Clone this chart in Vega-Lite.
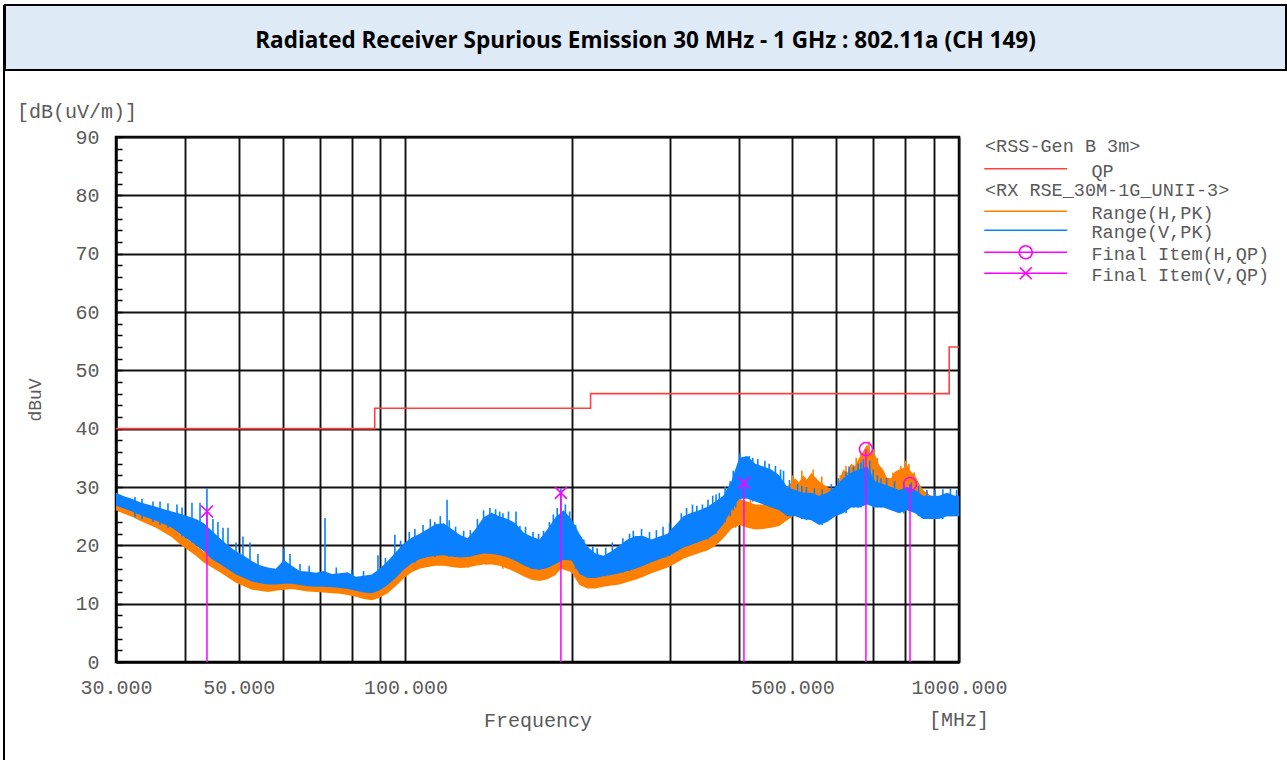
{
  "$schema": "https://vega.github.io/schema/vega-lite/v6.json",
  "background": "white",
  "padding": {"left": 3, "top": 4, "right": 0, "bottom": 0},
  "spacing": -2,
  "resolve": {"scale": {"color": "independent", "stroke": "independent", "shape": "independent"}, "legend": {"color": "independent", "stroke": "independent", "shape": "independent"}},
  "config": {
    "axis": {"labelFont": "Liberation Mono", "labelFontSize": 20, "labelColor": "#5a5a5a", "titleFont": "Liberation Mono", "titleFontSize": 20, "titleFontWeight": "normal", "titleColor": "#5a5a5a", "gridColor": "#111111", "gridWidth": 1.9, "gridOpacity": 1, "domainColor": "#000000", "domainWidth": 2},
    "legend": {"orient": "right", "offset": 26, "padding": 0, "titleFont": "Liberation Mono", "titleFontSize": 18.5, "titleFontWeight": "normal", "titleColor": "#5a5a5a", "titleLimit": 600, "titlePadding": 6, "labelFont": "Liberation Mono", "labelFontSize": 18.5, "labelColor": "#5a5a5a", "labelLimit": 600, "labelOffset": 88, "symbolSize": 100, "symbolStrokeWidth": 1.6, "rowPadding": 0, "layout": {"right": {"direction": "vertical", "anchor": "start", "margin": -6}}}
  },
  "datasets": {
    "H": [
      {"f":30.00,"lo":26.0,"hi":28.0},{"f":31.01,"lo":25.4,"hi":27.4},{"f":32.06,"lo":24.9,"hi":26.6},{"f":33.15,"lo":24.2,"hi":26.0},{"f":34.27,"lo":23.6,"hi":25.5},{"f":35.43,"lo":23.0,"hi":24.8},{"f":36.62,"lo":22.2,"hi":24.0},{"f":37.86,"lo":21.4,"hi":23.3},{"f":39.14,"lo":20.2,"hi":22.0},{"f":40.47,"lo":19.2,"hi":21.0},
      {"f":41.83,"lo":18.2,"hi":20.0},{"f":43.25,"lo":17.0,"hi":18.9},{"f":44.71,"lo":16.2,"hi":18.0},{"f":46.22,"lo":15.4,"hi":17.2},{"f":47.78,"lo":14.5,"hi":16.3},{"f":49.40,"lo":13.6,"hi":15.4},{"f":51.07,"lo":13.0,"hi":14.8},{"f":52.79,"lo":12.4,"hi":14.1},{"f":54.58,"lo":12.2,"hi":13.9},{"f":56.42,"lo":12.0,"hi":13.8},
      {"f":58.33,"lo":12.2,"hi":14.0},{"f":60.30,"lo":12.4,"hi":14.2},{"f":62.34,"lo":12.5,"hi":14.3},{"f":64.44,"lo":12.3,"hi":14.0},{"f":66.62,"lo":12.1,"hi":13.8},{"f":68.87,"lo":12.0,"hi":13.7},{"f":71.20,"lo":11.9,"hi":13.6},{"f":73.61,"lo":11.8,"hi":13.5},{"f":76.09,"lo":11.7,"hi":13.4},{"f":78.66,"lo":11.5,"hi":13.2},
      {"f":81.32,"lo":11.2,"hi":12.9},{"f":84.07,"lo":10.8,"hi":12.5},{"f":86.91,"lo":10.6,"hi":12.3},{"f":89.85,"lo":11.0,"hi":12.8},{"f":92.88,"lo":11.8,"hi":13.6},{"f":96.02,"lo":13.0,"hi":14.8},{"f":99.26,"lo":14.3,"hi":16.2},{"f":102.6,"lo":15.4,"hi":17.3},{"f":106.1,"lo":16.0,"hi":18.0},{"f":109.7,"lo":16.3,"hi":18.4},
      {"f":113.4,"lo":16.5,"hi":18.6},{"f":117.2,"lo":16.5,"hi":18.7},{"f":121.2,"lo":16.3,"hi":18.5},{"f":125.3,"lo":16.1,"hi":18.3},{"f":129.5,"lo":16.2,"hi":18.4},{"f":133.9,"lo":16.5,"hi":18.7},{"f":138.4,"lo":16.7,"hi":19.0},{"f":143.1,"lo":16.7,"hi":18.9},{"f":147.9,"lo":16.5,"hi":18.7},{"f":152.9,"lo":16.0,"hi":18.3},
      {"f":158.1,"lo":15.4,"hi":17.7},{"f":163.4,"lo":14.7,"hi":17.0},{"f":168.9,"lo":14.1,"hi":16.4},{"f":174.7,"lo":13.9,"hi":16.2},{"f":180.6,"lo":14.2,"hi":16.5},{"f":186.7,"lo":14.9,"hi":17.2},{"f":191.0,"lo":16.0,"hi":19.7},{"f":199.5,"lo":15.4,"hi":17.8},{"f":206.2,"lo":13.2,"hi":15.5},{"f":213.2,"lo":12.6,"hi":14.8},
      {"f":220.4,"lo":12.6,"hi":14.8},{"f":227.9,"lo":12.9,"hi":15.1},{"f":235.6,"lo":13.1,"hi":15.3},{"f":243.5,"lo":13.3,"hi":15.6},{"f":251.8,"lo":13.7,"hi":16.0},{"f":260.3,"lo":14.1,"hi":16.4},{"f":269.1,"lo":14.6,"hi":16.9},{"f":278.2,"lo":15.2,"hi":17.5},{"f":287.6,"lo":15.7,"hi":18.0},{"f":297.3,"lo":16.2,"hi":18.5},
      {"f":307.3,"lo":16.9,"hi":19.2},{"f":317.7,"lo":17.7,"hi":20.0},{"f":328.5,"lo":18.2,"hi":20.5},{"f":339.6,"lo":18.7,"hi":21.0},{"f":351.0,"lo":19.1,"hi":21.5},{"f":362.9,"lo":19.9,"hi":22.4},{"f":375.2,"lo":21.2,"hi":24.0},{"f":387.9,"lo":22.8,"hi":26.5},{"f":401.0,"lo":23.5,"hi":28.0},{"f":414.5,"lo":23.0,"hi":27.5},
      {"f":428.5,"lo":22.7,"hi":27.0},{"f":443.0,"lo":22.8,"hi":27.0},{"f":458.0,"lo":23.0,"hi":27.4},{"f":473.4,"lo":23.3,"hi":28.0},{"f":489.4,"lo":24.3,"hi":30.0},{"f":506.0,"lo":25.3,"hi":31.5},{"f":514.0,"lo":25.5,"hi":30.8},{"f":523.1,"lo":25.8,"hi":32.0},{"f":531.0,"lo":25.9,"hi":31.3},{"f":540.8,"lo":26.0,"hi":32.4},
      {"f":559.0,"lo":25.5,"hi":31.0},{"f":577.9,"lo":25.0,"hi":30.0},{"f":597.5,"lo":25.0,"hi":29.5},{"f":607.0,"lo":25.5,"hi":31.0},{"f":617.7,"lo":26.3,"hi":33.0},{"f":628.0,"lo":26.8,"hi":32.4},{"f":638.5,"lo":27.3,"hi":34.0},{"f":649.0,"lo":27.6,"hi":33.6},{"f":660.1,"lo":28.0,"hi":35.0},{"f":670.0,"lo":28.5,"hi":36.0},
      {"f":682.4,"lo":29.0,"hi":37.3},{"f":693.0,"lo":28.8,"hi":35.8},{"f":705.5,"lo":28.5,"hi":35.5},{"f":717.0,"lo":27.8,"hi":33.8},{"f":729.3,"lo":27.0,"hi":33.0},{"f":741.0,"lo":26.5,"hi":31.6},{"f":754.0,"lo":26.0,"hi":31.5},{"f":766.0,"lo":26.2,"hi":32.6},{"f":779.4,"lo":26.5,"hi":33.0},{"f":792.0,"lo":26.8,"hi":33.2},
      {"f":805.8,"lo":27.0,"hi":33.8},{"f":819.0,"lo":26.8,"hi":32.6},{"f":833.0,"lo":26.5,"hi":32.0},{"f":847.0,"lo":26.0,"hi":30.6},{"f":861.2,"lo":25.5,"hi":29.5},{"f":890.3,"lo":25.0,"hi":28.5},{"f":920.4,"lo":25.0,"hi":28.0},{"f":951.5,"lo":25.0,"hi":27.8},{"f":983.6,"lo":25.0,"hi":28.0},{"f":1000,"lo":25.2,"hi":28.0}
    ],
    "spkH": [
      {"f":110,"lo":16.3,"hi":19.3},{"f":130,"lo":16.2,"hi":19.2},{"f":140,"lo":16.7,"hi":19.7},{"f":150,"lo":16.0,"hi":19.2},{"f":185,"lo":14.9,"hi":18.2},{"f":195,"lo":16.0,"hi":19.6},{"f":395,"lo":23.0,"hi":28.5},{"f":420,"lo":23.0,"hi":28.2},{"f":450,"lo":23.0,"hi":28.0},{"f":470,"lo":23.3,"hi":28.6},
      {"f":500,"lo":25.0,"hi":32.0},{"f":520,"lo":25.8,"hi":32.8},{"f":545,"lo":26.0,"hi":33.0},{"f":565,"lo":25.5,"hi":31.8},{"f":610,"lo":25.5,"hi":32.0},{"f":625,"lo":26.5,"hi":33.6},{"f":652,"lo":27.5,"hi":35.0},{"f":665,"lo":28.0,"hi":35.8},{"f":688,"lo":29.0,"hi":37.8},{"f":700,"lo":28.5,"hi":36.5},
      {"f":712,"lo":28.0,"hi":35.0},{"f":760,"lo":26.0,"hi":32.5},{"f":785,"lo":26.5,"hi":33.6},{"f":800,"lo":27.0,"hi":34.5},{"f":812,"lo":27.0,"hi":34.0},{"f":830,"lo":26.5,"hi":32.5},{"f":875,"lo":25.0,"hi":29.2},{"f":905,"lo":25.0,"hi":28.8}
    ],
    "V": [
      {"f":30.00,"lo":26.8,"hi":29.0},{"f":31.01,"lo":26.3,"hi":28.4},{"f":32.06,"lo":25.8,"hi":28.0},{"f":33.15,"lo":25.2,"hi":27.4},{"f":34.27,"lo":24.7,"hi":27.0},{"f":35.43,"lo":24.2,"hi":26.6},{"f":36.62,"lo":23.6,"hi":26.2},{"f":37.86,"lo":23.0,"hi":25.8},{"f":39.14,"lo":22.0,"hi":25.4},{"f":40.47,"lo":21.0,"hi":25.0},
      {"f":41.83,"lo":20.0,"hi":24.5},{"f":43.25,"lo":19.0,"hi":23.8},{"f":44.71,"lo":17.6,"hi":22.5},{"f":46.22,"lo":16.8,"hi":21.2},{"f":47.78,"lo":15.9,"hi":20.0},{"f":49.40,"lo":15.0,"hi":19.0},{"f":51.07,"lo":14.4,"hi":18.2},{"f":52.79,"lo":13.8,"hi":17.3},{"f":54.58,"lo":13.5,"hi":16.6},{"f":56.42,"lo":13.3,"hi":16.2},
      {"f":58.33,"lo":13.3,"hi":16.0},{"f":60.30,"lo":13.4,"hi":17.5},{"f":62.34,"lo":13.4,"hi":16.5},{"f":64.44,"lo":13.2,"hi":15.6},{"f":66.62,"lo":13.0,"hi":15.5},{"f":68.87,"lo":12.9,"hi":15.3},{"f":71.20,"lo":12.9,"hi":15.6},{"f":73.61,"lo":12.8,"hi":15.1},{"f":76.09,"lo":12.7,"hi":15.2},{"f":78.66,"lo":12.5,"hi":15.4},
      {"f":81.32,"lo":12.2,"hi":14.6},{"f":84.07,"lo":11.9,"hi":14.8},{"f":86.91,"lo":11.8,"hi":15.0},{"f":89.85,"lo":12.3,"hi":16.0},{"f":92.88,"lo":13.2,"hi":17.3},{"f":96.02,"lo":14.4,"hi":18.8},{"f":99.26,"lo":15.8,"hi":20.3},{"f":102.6,"lo":16.9,"hi":21.3},{"f":106.1,"lo":17.6,"hi":22.0},{"f":109.7,"lo":18.0,"hi":22.8},
      {"f":113.4,"lo":18.2,"hi":23.6},{"f":117.2,"lo":18.3,"hi":23.8},{"f":121.2,"lo":18.1,"hi":22.8},{"f":125.3,"lo":17.9,"hi":21.8},{"f":129.5,"lo":18.0,"hi":21.2},{"f":133.9,"lo":18.3,"hi":22.8},{"f":138.4,"lo":18.6,"hi":24.8},{"f":143.1,"lo":18.5,"hi":25.6},{"f":147.9,"lo":18.3,"hi":25.0},{"f":152.9,"lo":17.9,"hi":24.5},
      {"f":158.1,"lo":17.3,"hi":23.8},{"f":163.4,"lo":16.6,"hi":22.2},{"f":168.9,"lo":16.0,"hi":21.5},{"f":174.7,"lo":15.8,"hi":21.0},{"f":180.6,"lo":16.1,"hi":22.8},{"f":186.7,"lo":16.8,"hi":24.8},{"f":193.0,"lo":17.5,"hi":26.0},{"f":199.5,"lo":17.4,"hi":24.5},{"f":206.2,"lo":15.1,"hi":22.0},{"f":213.2,"lo":14.4,"hi":19.8},
      {"f":220.4,"lo":14.4,"hi":18.6},{"f":227.9,"lo":14.7,"hi":18.2},{"f":235.6,"lo":14.9,"hi":19.0},{"f":243.5,"lo":15.2,"hi":20.0},{"f":251.8,"lo":15.6,"hi":21.0},{"f":260.3,"lo":16.0,"hi":21.6},{"f":269.1,"lo":16.5,"hi":21.6},{"f":278.2,"lo":17.1,"hi":21.0},{"f":287.6,"lo":17.6,"hi":21.5},{"f":297.3,"lo":18.1,"hi":22.0},
      {"f":307.3,"lo":18.8,"hi":23.5},{"f":317.7,"lo":19.6,"hi":25.0},{"f":328.5,"lo":20.1,"hi":25.6},{"f":339.6,"lo":20.6,"hi":26.0},{"f":351.0,"lo":21.1,"hi":26.6},{"f":362.9,"lo":22.0,"hi":27.5},{"f":375.2,"lo":23.6,"hi":28.5},{"f":387.9,"lo":26.0,"hi":31.0},{"f":401.0,"lo":28.0,"hi":35.0},{"f":414.5,"lo":28.0,"hi":35.3},
      {"f":428.5,"lo":27.5,"hi":34.0},{"f":443.0,"lo":27.0,"hi":33.5},{"f":458.0,"lo":26.5,"hi":33.0},{"f":473.4,"lo":26.0,"hi":32.0},{"f":489.4,"lo":25.0,"hi":30.0},{"f":506.0,"lo":25.0,"hi":29.5},{"f":523.1,"lo":24.5,"hi":29.0},{"f":540.8,"lo":24.3,"hi":29.0},{"f":559.0,"lo":23.5,"hi":28.5},{"f":577.9,"lo":24.0,"hi":29.0},
      {"f":597.5,"lo":25.0,"hi":30.0},{"f":617.7,"lo":25.5,"hi":31.5},{"f":638.5,"lo":26.5,"hi":32.5},{"f":660.1,"lo":26.5,"hi":33.0},{"f":682.4,"lo":27.0,"hi":33.5},{"f":705.5,"lo":26.5,"hi":31.0},{"f":729.3,"lo":26.5,"hi":30.5},{"f":754.0,"lo":26.0,"hi":30.0},{"f":779.4,"lo":25.5,"hi":29.5},{"f":805.8,"lo":26.0,"hi":30.0},
      {"f":833.0,"lo":25.5,"hi":29.5},{"f":861.2,"lo":24.5,"hi":28.5},{"f":890.3,"lo":24.5,"hi":28.5},{"f":920.4,"lo":24.5,"hi":28.5},{"f":951.5,"lo":25.0,"hi":29.0},{"f":983.6,"lo":25.0,"hi":28.5},{"f":1000,"lo":25.0,"hi":28.5}
    ],
    "spk": [
      {"f":32.47,"lo":24.8,"hi":28.3},{"f":33.43,"lo":24.5,"hi":28.0},{"f":34.99,"lo":24.0,"hi":27.5},{"f":36.03,"lo":23.5,"hi":27.5},{"f":37.24,"lo":23.0,"hi":27.2},{"f":38.66,"lo":22.5,"hi":27.0},{"f":39.48,"lo":21.5,"hi":26.5},{"f":41.15,"lo":20.5,"hi":27.3},{"f":42.55,"lo":19.5,"hi":27.3},{"f":43.79,"lo":19.0,"hi":29.8},
      {"f":44.9,"lo":18.0,"hi":24.5},{"f":45.84,"lo":17.5,"hi":24.0},{"f":46.82,"lo":17.0,"hi":23.0},{"f":47.8,"lo":16.5,"hi":23.0},{"f":49.42,"lo":15.5,"hi":20.5},{"f":50.87,"lo":15.0,"hi":21.5},{"f":52.38,"lo":14.5,"hi":20.5},{"f":54.15,"lo":14.0,"hi":18.5},{"f":60.34,"lo":13.5,"hi":19.5},{"f":61.87,"lo":13.5,"hi":18.5},
      {"f":64.5,"lo":13.5,"hi":16.8},{"f":67,"lo":13.2,"hi":16.5},{"f":75,"lo":13.0,"hi":16.2},{"f":80,"lo":12.6,"hi":15.8},{"f":84,"lo":12.0,"hi":15.6},{"f":92,"lo":13.0,"hi":17.8},{"f":98,"lo":15.5,"hi":20.8},{"f":104,"lo":17.0,"hi":22.8},{"f":113,"lo":18.0,"hi":24.0},{"f":120,"lo":18.0,"hi":24.3},
      {"f":131,"lo":18.0,"hi":22.6},{"f":148,"lo":18.5,"hi":25.8},{"f":161,"lo":17.0,"hi":23.3},{"f":170,"lo":16.0,"hi":22.3},{"f":174,"lo":15.8,"hi":22.0},{"f":188,"lo":17.0,"hi":26.4},{"f":203,"lo":16.0,"hi":23.5},{"f":210,"lo":15.0,"hi":21.0},{"f":218,"lo":14.5,"hi":19.8},{"f":230,"lo":14.7,"hi":19.6},
      {"f":247,"lo":15.3,"hi":21.2},{"f":254,"lo":15.6,"hi":22.0},{"f":284,"lo":17.5,"hi":22.6},{"f":292,"lo":18.0,"hi":23.2},{"f":300,"lo":18.2,"hi":23.8},{"f":322,"lo":20.0,"hi":26.4},{"f":336,"lo":20.5,"hi":26.8},{"f":352,"lo":21.0,"hi":27.8},{"f":364,"lo":22.0,"hi":28.7},{"f":378,"lo":24.0,"hi":30.0},
      {"f":391,"lo":26.0,"hi":32.8},{"f":424,"lo":27.5,"hi":35.0},{"f":433,"lo":27.5,"hi":34.8},{"f":446,"lo":27.0,"hi":34.5},{"f":466,"lo":26.5,"hi":33.6},{"f":476,"lo":26.0,"hi":33.0},{"f":494,"lo":25.0,"hi":31.2},{"f":520,"lo":24.5,"hi":30.2},{"f":530,"lo":24.3,"hi":30.0},{"f":548,"lo":24.0,"hi":29.8},
      {"f":566,"lo":23.5,"hi":29.6},{"f":588,"lo":24.5,"hi":30.5},{"f":605,"lo":25.5,"hi":31.5},{"f":625,"lo":25.5,"hi":32.6},{"f":645,"lo":26.5,"hi":33.5},{"f":665,"lo":26.5,"hi":34.2},{"f":690,"lo":27.0,"hi":34.5},{"f":700,"lo":26.5,"hi":33.0},{"f":712,"lo":26.5,"hi":32.0},{"f":740,"lo":26.5,"hi":31.5},
      {"f":765,"lo":26.0,"hi":31.0},{"f":795,"lo":25.5,"hi":30.8},{"f":820,"lo":26.0,"hi":30.8},{"f":845,"lo":25.0,"hi":30.2},{"f":875,"lo":24.5,"hi":29.5},{"f":905,"lo":24.5,"hi":29.5},{"f":935,"lo":24.5,"hi":29.6},{"f":965,"lo":25.0,"hi":29.8},{"f":990,"lo":25.0,"hi":29.5},
      {"f":71.56,"lo":13.0,"hi":24.7},{"f":89.2,"lo":12.5,"hi":18.3},{"f":95.7,"lo":14.5,"hi":21.8},{"f":101.6,"lo":17.0,"hi":22.3},{"f":107.6,"lo":18.0,"hi":23.5},{"f":110.9,"lo":18.5,"hi":24.5},{"f":115.6,"lo":19.0,"hi":25.0},{"f":118.9,"lo":19.0,"hi":27.8},{"f":123.2,"lo":18.5,"hi":23.2},{"f":127.4,"lo":18.5,"hi":22.5},
      {"f":134.9,"lo":19.0,"hi":24.5},{"f":138.4,"lo":19.5,"hi":26.0},{"f":142.1,"lo":20.0,"hi":26.4},{"f":145.5,"lo":19.5,"hi":26.2},{"f":150.0,"lo":19.5,"hi":25.5},{"f":153.5,"lo":19.0,"hi":25.8},{"f":158.4,"lo":19.0,"hi":25.8},{"f":164.8,"lo":18.0,"hi":23.2},{"f":177.6,"lo":17.0,"hi":22.5},{"f":182.0,"lo":17.5,"hi":24.0},
      {"f":185.0,"lo":18.0,"hi":25.3},{"f":190.9,"lo":19.5,"hi":29.8},{"f":194.5,"lo":19.0,"hi":27.0},{"f":198.0,"lo":19.0,"hi":25.8},{"f":222.0,"lo":15.5,"hi":19.5},{"f":236.5,"lo":16.0,"hi":20.5},{"f":258.0,"lo":16.5,"hi":22.5},{"f":267.0,"lo":17.0,"hi":22.8},{"f":276.0,"lo":17.5,"hi":22.3},{"f":304.0,"lo":18.5,"hi":23.0},
      {"f":315.0,"lo":19.5,"hi":25.5},{"f":330.0,"lo":20.5,"hi":27.0},{"f":344.0,"lo":21.0,"hi":27.0},{"f":359.0,"lo":22.0,"hi":28.5},{"f":369.0,"lo":23.0,"hi":29.0},{"f":386.0,"lo":25.0,"hi":31.0},{"f":395.0,"lo":26.5,"hi":33.0},{"f":402.0,"lo":28.0,"hi":35.8},{"f":418.0,"lo":28.0,"hi":35.3},{"f":454.0,"lo":27.0,"hi":34.0},
      {"f":482.0,"lo":26.0,"hi":32.8},{"f":511.0,"lo":25.0,"hi":30.5},{"f":633.0,"lo":26.5,"hi":33.5},{"f":657.0,"lo":26.5,"hi":34.0},{"f":672.0,"lo":27.0,"hi":34.8},{"f":723.0,"lo":26.5,"hi":31.5}
    ],
    "lim": [{"f":30,"v":40},{"f":88,"v":43.5},{"f":216,"v":46},{"f":960,"v":54},{"f":1000,"v":54}],
    "fin": [{"f":43.8,"v":25.8,"p":"V"},{"f":190.9,"v":29.0,"p":"V"},{"f":408.8,"v":30.7,"p":"V"},{"f":679,"v":36.5,"p":"H"},{"f":815.7,"v":30.5,"p":"H"}],
    "none": []
  },
  "hconcat": [
    {
      "width": 2, "height": 756,
      "data": {"name": "none"},
      "mark": "point",
      "encoding": {},
      "view": {"fill": "#000000", "stroke": null}
    },
    {
      "spacing": 29,
      "resolve": {"scale": {"color": "independent", "stroke": "independent", "shape": "independent"}, "legend": {"color": "independent", "stroke": "independent", "shape": "independent"}},
      "vconcat": [
        {
          "width": 1281, "height": 65,
          "data": {"values": [{"t": "Radiated Receiver Spurious Emission 30 MHz - 1 GHz : 802.11a (CH 149)"}]},
          "mark": {"type": "text", "font": "Open Sans", "fontWeight": "bold", "fontSize": 22.5, "color": "#000000", "baseline": "middle", "dy": 3},
          "encoding": {"text": {"field": "t", "type": "nominal"}},
          "view": {"fill": "#DEEAF6", "stroke": "#000000", "strokeWidth": 2}
        },
        {
          "bounds": "flush",
          "spacing": 110,
          "resolve": {"scale": {"color": "independent", "stroke": "independent", "shape": "independent"}, "legend": {"color": "independent", "stroke": "independent", "shape": "independent"}},
          "hconcat": [
            {
              "width": 1, "height": 1,
              "data": {"name": "none"},
              "mark": "point",
              "encoding": {},
              "view": {"stroke": null}
            },
            {
              "width": 843, "height": 525,
              "title": {"text": "[dB(uV/m)]", "anchor": "start", "frame": "group", "dx": -99, "offset": 5, "font": "Liberation Mono", "fontSize": 20, "fontWeight": "normal", "color": "#5a5a5a"},
              "view": {"stroke": "#000000", "strokeWidth": 2.5},
              "layer": [
                {
                  "data": {"name": "H"},
                  "mark": {"type": "area", "color": "#FF8000", "opacity": 1},
                  "encoding": {
                    "x": {"field": "f", "type": "quantitative", "scale": {"type": "log", "domain": [30, 1000], "nice": false},
                      "axis": {"values": [30,40,50,60,70,80,90,100,200,300,400,500,600,700,800,900,1000], "tickCount": 200, "labelExpr": "indexof([30,50,100,500,1000], datum.value) >= 0 ? format(datum.value, '.3f') : ''", "grid": true, "ticks": false, "tickSize": 0, "labelPadding": 15, "labelOverlap": false, "labelFlush": false, "labelBound": false, "title": "Frequency", "titlePadding": 13}},
                    "y": {"field": "lo", "type": "quantitative", "scale": {"domain": [0, 90], "nice": false, "zero": false},
                      "axis": {"values": [0,2,4,6,8,10,12,14,16,18,20,22,24,26,28,30,32,34,36,38,40,42,44,46,48,50,52,54,56,58,60,62,64,66,68,70,72,74,76,78,80,82,84,86,88,90], "tickCount": 200, "labelExpr": "datum.value % 10 === 0 ? format(datum.value, 'd') : ''", "grid": true, "gridOpacity": {"condition": {"test": "datum.value % 10 === 0", "value": 1}, "value": 0}, "ticks": true, "tickSize": -6, "tickColor": "#000000", "tickWidth": 1.5, "labelPadding": 23, "labelOverlap": false, "title": "dBuV", "titleFontSize": 18, "titlePadding": 30}},
                    "y2": {"field": "hi"}
                  }
                },
                {
                  "data": {"name": "spkH"},
                  "mark": {"type": "rule", "color": "#FF8000", "strokeWidth": 1.6},
                  "encoding": {
                    "x": {"field": "f", "type": "quantitative"},
                    "y": {"field": "lo", "type": "quantitative"},
                    "y2": {"field": "hi"}
                  }
                },
                {
                  "data": {"name": "V"},
                  "mark": {"type": "area", "color": "#0A80FF", "opacity": 1},
                  "encoding": {
                    "x": {"field": "f", "type": "quantitative"},
                    "y": {"field": "lo", "type": "quantitative"},
                    "y2": {"field": "hi"}
                  }
                },
                {
                  "data": {"name": "spk"},
                  "mark": {"type": "rule", "color": "#0A80FF", "strokeWidth": 1.6},
                  "encoding": {
                    "x": {"field": "f", "type": "quantitative"},
                    "y": {"field": "lo", "type": "quantitative"},
                    "y2": {"field": "hi"}
                  }
                },
                {
                  "data": {"name": "lim"},
                  "mark": {"type": "line", "interpolate": "step-after", "strokeWidth": 1.6},
                  "encoding": {
                    "x": {"field": "f", "type": "quantitative"},
                    "y": {"field": "v", "type": "quantitative"},
                    "color": {"datum": "QP", "type": "nominal", "scale": {"domain": ["QP"], "range": ["#FF4040"]},
                      "legend": {"title": "<RSS-Gen B 3m>", "symbolType": "M-2,-0.4H14.6", "symbolSize": 100}}
                  }
                },
                {
                  "data": {"name": "fin"},
                  "mark": {"type": "rule", "color": "#FF00FF", "strokeWidth": 1.5},
                  "encoding": {
                    "x": {"field": "f", "type": "quantitative"},
                    "y": {"field": "v", "type": "quantitative"},
                    "y2": {"datum": 0}
                  }
                },
                {
                  "data": {"name": "fin"},
                  "transform": [{"filter": "datum.p === 'H'"}],
                  "mark": {"type": "point", "shape": "circle", "size": 170, "filled": false, "opacity": 1, "color": "#FF00FF", "strokeWidth": 1.6},
                  "encoding": {
                    "x": {"field": "f", "type": "quantitative"},
                    "y": {"field": "v", "type": "quantitative"}
                  }
                },
                {
                  "data": {"name": "fin"},
                  "transform": [{"filter": "datum.p === 'V'"}],
                  "mark": {"type": "point", "shape": "M-1,-1L1,1M-1,1L1,-1", "size": 144, "filled": false, "opacity": 1, "color": "#FF00FF", "strokeWidth": 1.6},
                  "encoding": {
                    "x": {"field": "f", "type": "quantitative"},
                    "y": {"field": "v", "type": "quantitative"}
                  }
                },
                {
                  "data": {"name": "none"},
                  "mark": {"type": "point", "filled": false, "opacity": 1, "strokeWidth": 1.6},
                  "encoding": {
                    "x": {"field": "f", "type": "quantitative"},
                    "y": {"field": "v", "type": "quantitative"},
                    "stroke": {"field": "s", "type": "nominal",
                      "scale": {"domain": ["Range(H,PK)", "Range(V,PK)", "Final Item(H,QP)", "Final Item(V,QP)"], "range": ["#FF8000", "#0A80FF", "#FF00FF", "#FF00FF"]},
                      "legend": {"title": "<RX RSE_30M-1G_UNII-3>", "titlePadding": 4.5}},
                    "shape": {"field": "s", "type": "nominal",
                      "scale": {"domain": ["Range(H,PK)", "Range(V,PK)", "Final Item(H,QP)", "Final Item(V,QP)"], "range": ["M-2,-0.4H14.6", "M-2,-0.4H14.6", "M-2,-0.4H14.6M7.6,-0.4A1.3,1.3,0,1,1,5,-0.4A1.3,1.3,0,1,1,7.6,-0.4", "M-2,-0.4H14.6M5.1,-1.6L7.5,0.8M5.1,0.8L7.5,-1.6"]},
                      "legend": {"title": "<RX RSE_30M-1G_UNII-3>", "titlePadding": 4.5}}
                  }
                },
                {
                  "data": {"values": [{"t": "[MHz]"}]},
                  "mark": {"type": "text", "font": "Liberation Mono", "fontSize": 20, "color": "#5a5a5a", "align": "center", "baseline": "middle", "dy": 58},
                  "encoding": {
                    "x": {"datum": 1000, "type": "quantitative"},
                    "y": {"datum": 0, "type": "quantitative"},
                    "text": {"field": "t", "type": "nominal"}
                  }
                }
              ]
            }
          ]
        }
      ]
    }
  ]
}
